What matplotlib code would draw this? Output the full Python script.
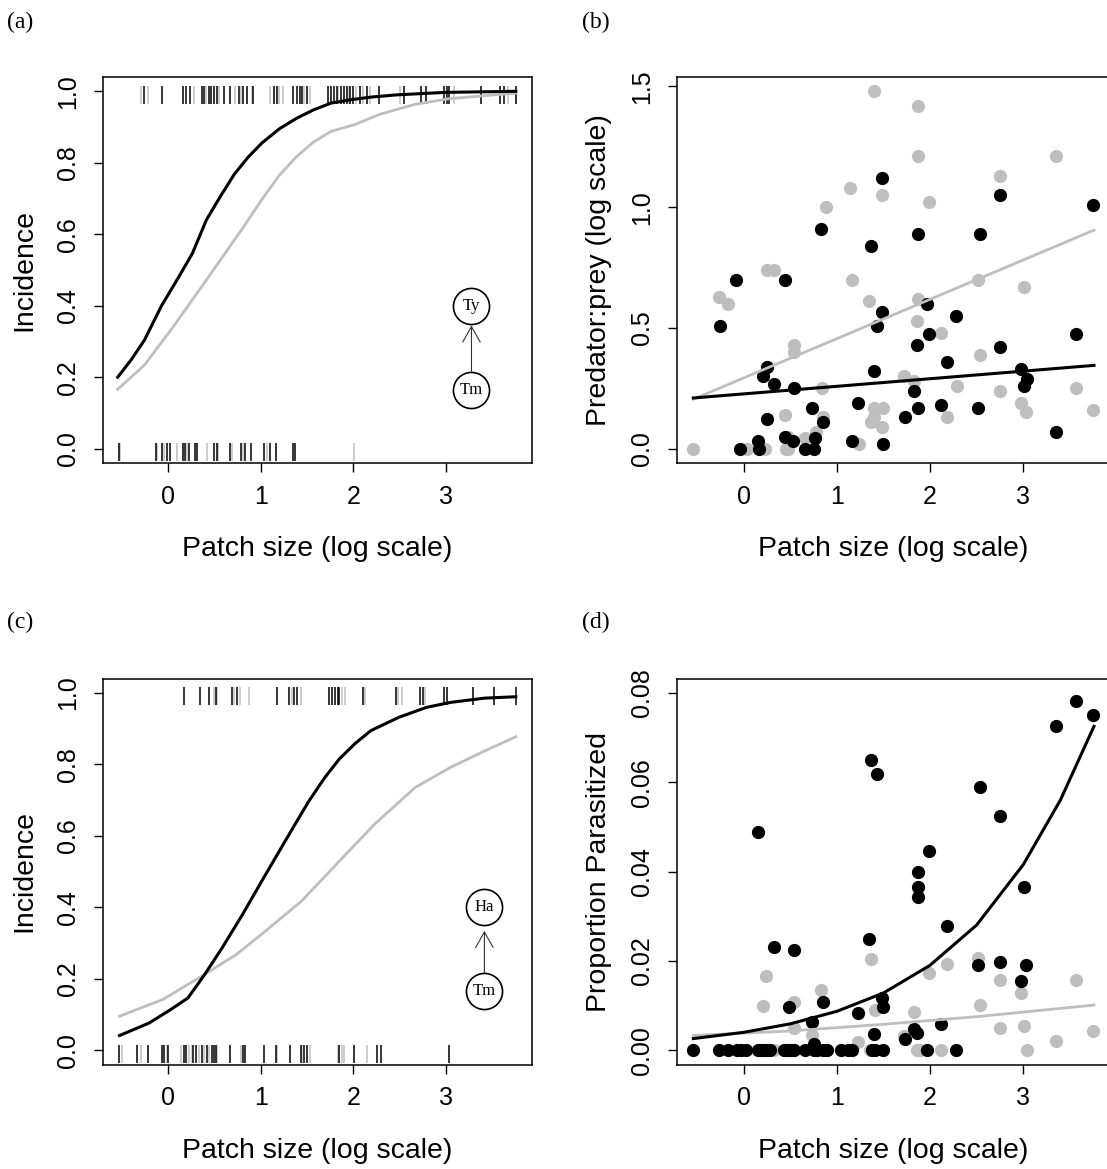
"""
Incidence and abundance of predators/parasitoids against patch size
"""
import matplotlib
matplotlib.use("Agg")
import matplotlib.pyplot as plt

plt.rcParams['font.family'] = ['Liberation Sans', 'DejaVu Sans']

# ---- (a) incidence curves, Ty on Tm ----
a_black_x = [-0.55, -0.4, -0.26, -0.075, 0.11, 0.26, 0.41, 0.56, 0.71, 0.86, 1.01, 1.2, 1.39,
             1.57, 1.76, 1.99, 2.2, 2.47, 3.0, 3.76]
a_black_y = [0.20, 0.25, 0.304, 0.40, 0.48, 0.547, 0.64, 0.705, 0.767, 0.815, 0.855, 0.895, 0.925,
             0.948, 0.967, 0.977, 0.984, 0.99, 0.997, 1.0]
a_gray_x = [-0.55, -0.26, 0.04, 0.41, 0.79, 1.01, 1.2, 1.39, 1.57, 1.76, 2.02, 2.28, 2.66, 3.03, 3.76]
a_gray_y = [0.166, 0.234, 0.337, 0.472, 0.612, 0.697, 0.765, 0.818, 0.858, 0.888, 0.907, 0.935,
            0.963, 0.979, 0.995]

# occupied (y=1) and empty (y=0) patches
a_top_black = [-0.27, -0.065, 0.16, 0.19, 0.235, 0.36, 0.39, 0.44, 0.46, 0.49, 0.52, 0.60, 0.67,
               0.76, 0.81, 0.85, 0.92, 1.14, 1.17, 1.35, 1.39, 1.42, 1.45, 1.50, 1.73, 1.76, 1.79,
               1.82, 1.87, 1.90, 1.93, 1.97, 2.00, 2.07, 2.15, 2.28, 2.55, 2.73, 2.79, 2.98, 3.02,
               3.04, 3.38, 3.59, 3.63, 3.76]
a_top_gray = [-0.30, -0.22, 0.28, 0.41, 0.55, 0.72, 0.78, 0.90, 1.10, 1.20, 1.24, 1.47, 1.53,
              1.84, 1.95, 2.03, 2.11, 2.18, 2.51, 3.09, 3.68]
a_bot_black = [-0.54, -0.14, -0.07, -0.02, 0.02, 0.16, 0.18, 0.22, 0.29, 0.31, 0.49, 0.52, 0.67,
               0.78, 0.83, 0.89, 1.03, 1.10, 1.16, 1.35, 1.37]
a_bot_gray = [-0.52, -0.12, -0.05, 0.09, 0.20, 0.42, 0.54, 0.69, 0.81, 1.07, 2.01]

# ---- (b) predator:prey ratio ----
b_gray_x = [1.40, 1.87, 1.87, 3.35, 2.75, 1.14, 1.49, 1.99, 0.88, 0.25, 0.33, 1.16, 2.51, 3.01,
            -0.26, -0.17, 1.35, 1.87, 1.86, 2.12, 0.54, 0.54, 2.54, 1.72, 1.83, 0.84, 2.29, 2.75,
            3.57, 1.40, 1.50, 2.98, 3.03, 3.75, 0.44, 0.85, 2.18, 1.40, 1.37, 1.49, 0.78, 0.66,
            0.48, 1.24, -0.54, 0.04, 0.23, 0.45, 0.48]
b_gray_y = [1.48, 1.42, 1.21, 1.21, 1.13, 1.08, 1.05, 1.02, 1.00, 0.74, 0.74, 0.70, 0.70, 0.67,
            0.63, 0.60, 0.61, 0.62, 0.53, 0.48, 0.43, 0.40, 0.39, 0.30, 0.28, 0.25, 0.26, 0.24,
            0.25, 0.17, 0.17, 0.19, 0.15, 0.16, 0.14, 0.13, 0.13, 0.13, 0.11, 0.09, 0.07, 0.045,
            0.05, 0.02, 0.0, 0.0, 0.0, 0.0, 0.0]
b_black_x = [1.49, 2.75, 3.75, 0.83, 1.87, 2.54, 1.37, -0.08, 0.44, -0.25, 1.97, 1.49, 2.28, 1.43,
             1.99, 1.86, 2.75, 3.57, 2.18, 0.25, 0.21, 1.40, 2.98, 3.04, 3.01, 0.33, 0.54, 1.83,
             0.73, 1.23, 1.87, 2.12, 2.51, 0.25, 0.85, 1.73, 3.35, 0.77, 0.44, 0.53, 0.15, 1.16,
             1.50, -0.04, 0.17, 0.66, 0.76]
b_black_y = [1.12, 1.05, 1.01, 0.91, 0.89, 0.89, 0.84, 0.70, 0.70, 0.51, 0.60, 0.565, 0.55, 0.51,
             0.475, 0.43, 0.42, 0.475, 0.36, 0.34, 0.30, 0.32, 0.33, 0.29, 0.26, 0.27, 0.25, 0.24,
             0.17, 0.19, 0.17, 0.18, 0.17, 0.125, 0.11, 0.13, 0.07, 0.045, 0.05, 0.03, 0.03, 0.03,
             0.02, 0.0, 0.0, 0.0, 0.0]
b_fit_x = [-0.54, 3.76]
b_fit_black = [0.21, 0.345]
b_fit_gray = [0.205, 0.905]

# ---- (c) incidence curves, Ha on Tm ----
c_black_x = [-0.53, -0.21, 0.02, 0.21, 0.39, 0.58, 0.80, 1.03, 1.22, 1.37, 1.52, 1.69, 1.85, 2.02,
             2.19, 2.49, 2.79, 3.05, 3.42, 3.76]
c_black_y = [0.041, 0.076, 0.113, 0.146, 0.211, 0.286, 0.379, 0.482, 0.566, 0.632, 0.697, 0.762,
             0.815, 0.858, 0.894, 0.931, 0.959, 0.973, 0.985, 0.989]
c_gray_x = [-0.53, -0.06, 0.36, 0.73, 1.03, 1.44, 1.85, 2.23, 2.67, 3.05, 3.42, 3.76]
c_gray_y = [0.095, 0.142, 0.207, 0.267, 0.329, 0.417, 0.529, 0.632, 0.735, 0.791, 0.837, 0.877]

c_top_black = [0.17, 0.34, 0.44, 0.51, 0.69, 0.74, 1.18, 1.31, 1.36, 1.39, 1.74, 1.77, 1.80, 1.83,
               1.85, 2.11, 2.46, 2.72, 2.76, 2.98, 3.02, 3.30, 3.52, 3.76]
c_top_gray = [0.49, 0.52, 0.71, 0.77, 0.87, 1.34, 1.43, 1.88, 1.91, 2.13, 2.49, 2.53, 2.78]
c_bot_black = [-0.54, -0.34, -0.22, -0.07, -0.05, 0.00, 0.17, 0.19, 0.27, 0.30, 0.36, 0.42, 0.47,
               0.49, 0.51, 0.67, 0.81, 0.83, 1.03, 1.16, 1.32, 1.43, 1.47, 1.50, 1.85, 2.01, 2.26,
               2.30, 3.04]
c_bot_gray = [-0.50, -0.30, -0.02, 0.14, 0.22, 0.25, 0.33, 0.39, 0.44, 0.52, 0.78, 1.17, 1.45,
              1.53, 1.83, 1.88, 1.90, 2.15]

# ---- (d) proportion parasitized ----
d_black_x = [3.57, 3.75, 3.35, 1.37, 1.43, 2.54, 2.75, 0.15, 1.99, 1.87, 1.87, 1.87, 3.01, 2.18,
             0.33, 0.54, 1.35, 2.51, 2.75, 3.03, 2.98, 1.49, 1.50, 0.85, 0.49, 1.23, 0.73, 2.12,
             1.83, 1.86, 1.40, 1.73, 0.76,
             -0.54, -0.26, -0.17, -0.07, -0.03, 0.03, 0.15, 0.18, 0.21, 0.24, 0.28, 0.43, 0.47,
             0.51, 0.54, 0.66, 0.76, 0.79, 0.85, 0.89, 1.05, 1.12, 1.16, 1.38, 1.41, 1.50, 1.97,
             2.28]
d_black_y = [0.0781, 0.0751, 0.0725, 0.0649, 0.0619, 0.0590, 0.0524, 0.0488, 0.0446, 0.0398,
             0.0366, 0.0343, 0.0366, 0.0278, 0.0231, 0.0224, 0.0250, 0.0190, 0.0198, 0.0190,
             0.0156, 0.0116, 0.0096, 0.0108, 0.0097, 0.0084, 0.0063, 0.0058, 0.0048, 0.0039,
             0.0037, 0.0024, 0.0015,
             0, 0, 0, 0, 0, 0, 0, 0, 0, 0, 0, 0, 0, 0, 0, 0, 0, 0, 0, 0, 0, 0, 0, 0, 0, 0, 0, 0]
d_gray_x = [1.37, 2.51, 2.18, 1.99, 0.24, 2.75, 3.57, 2.98, 0.83, 1.41, 0.54, 0.21, 2.54, 1.83,
            3.75, 0.54, 2.75, 3.01, 0.73, 1.23, 3.35, 1.72,
            0.33, 1.36, 1.86, 1.89, 2.12, 3.04]
d_gray_y = [0.0205, 0.0207, 0.0192, 0.0172, 0.0166, 0.0158, 0.0158, 0.0128, 0.0134, 0.0090,
            0.0108, 0.0100, 0.0102, 0.0086, 0.0044, 0.0050, 0.0050, 0.0054, 0.0035, 0.0019,
            0.0020, 0.0031,
            0, 0, 0, 0, 0, 0]
d_fit_black_x = [-0.54, 0.0, 0.5, 1.0, 1.5, 2.0, 2.5, 3.0, 3.4, 3.76]
d_fit_black_y = [0.0026, 0.0040, 0.0059, 0.0087, 0.0128, 0.0190, 0.0280, 0.0415, 0.0560, 0.0725]
d_fit_gray_x = [-0.54, 0.5, 1.5, 2.5, 3.76]
d_fit_gray_y = [0.0033, 0.0043, 0.0058, 0.0075, 0.0101]

x_ticks = [0, 1, 2, 3]
GRAY = '#bebebe'
XLIM = (-0.712, 3.932)

W, H = 1107, 1169
fig = plt.figure(figsize=(W / 100, H / 100), dpi=100)


def make_axes(left, top, width, height):
    return fig.add_axes([left / W, 1 - (top + height) / H, width / W, height / H])


def style(ax, yticks, yfmt, ylim, ylabel):
    ax.set_xlim(*XLIM)
    ax.set_ylim(*ylim)
    ax.set_xticks(x_ticks)
    ax.set_xticklabels([str(t) for t in x_ticks])
    ax.set_yticks(yticks)
    ax.set_yticklabels([yfmt.format(t) for t in yticks], rotation=90, va='center')
    ax.tick_params(direction='out', length=6.5, width=1.0, labelsize=18)
    ax.tick_params(axis='x', pad=9)
    ax.tick_params(axis='y', pad=10)
    for s in ax.spines.values():
        s.set_linewidth(1.1)
    ax.set_xlabel('Patch size (log scale)', fontsize=20.5)
    ax.set_ylabel(ylabel, fontsize=20.5)
    ax.xaxis.set_label_coords(0.5, -0.19)
    ax.yaxis.set_label_coords(-0.152, 0.5)


def rug(ax, xs, y, color):
    ax.plot(xs, [y] * len(xs), linestyle='none', marker='|', markersize=13,
            markeredgewidth=1.1, color=color)


def food_chain(ax, x, top_name, y_top, y_bot, tip, base):
    ax.annotate('', xy=(x, tip), xytext=(x, base),
                arrowprops=dict(arrowstyle='->,head_length=0.8,head_width=0.45',
                                color='#333333', lw=0.8, shrinkA=0, shrinkB=0,
                                mutation_scale=14))
    for y, name in [(y_top, top_name), (y_bot, 'Tm')]:
        ax.plot([x], [y], marker='o', markersize=26, markerfacecolor='white',
                markeredgecolor='black', markeredgewidth=1.2)
        ax.text(x, y, name, ha='center', va='center', fontsize=12,
                family=['Liberation Serif', 'DejaVu Serif'])


# (a)
ax = make_axes(102.7, 77, 429, 386)
rug(ax, a_top_gray, 0.99, GRAY)
rug(ax, a_top_black, 0.99, 'black')
rug(ax, a_bot_gray, -0.01, GRAY)
rug(ax, a_bot_black, -0.01, 'black')
ax.plot(a_gray_x, a_gray_y, color=GRAY, lw=2.0)
ax.plot(a_black_x, a_black_y, color='black', lw=2.2)
food_chain(ax, 3.28, 'Ty', 0.40, 0.164, 0.345, 0.213)
style(ax, [0, 0.2, 0.4, 0.6, 0.8, 1.0], '{:.1f}', (-0.04, 1.04), 'Incidence')

# (b)
ax = make_axes(677.3, 77, 432.7, 386)
ax.plot(b_gray_x, b_gray_y, linestyle='none', marker='o', markersize=8.5, color=GRAY)
ax.plot(b_black_x, b_black_y, linestyle='none', marker='o', markersize=8.5, color='black')
ax.plot(b_fit_x, b_fit_gray, color=GRAY, lw=2.0)
ax.plot(b_fit_x, b_fit_black, color='black', lw=2.2)
style(ax, [0, 0.5, 1.0, 1.5], '{:.1f}', (-0.0592, 1.5392), 'Predator:prey (log scale)')

# (c)
ax = make_axes(102.7, 678.5, 429, 386)
rug(ax, c_top_gray, 0.99, GRAY)
rug(ax, c_top_black, 0.99, 'black')
rug(ax, c_bot_gray, -0.01, GRAY)
rug(ax, c_bot_black, -0.01, 'black')
ax.plot(c_gray_x, c_gray_y, color=GRAY, lw=2.0)
ax.plot(c_black_x, c_black_y, color='black', lw=2.2)
food_chain(ax, 3.42, 'Ha', 0.40, 0.165, 0.334, 0.217)
style(ax, [0, 0.2, 0.4, 0.6, 0.8, 1.0], '{:.1f}', (-0.04, 1.04), 'Incidence')

# (d)
ax = make_axes(677.3, 678.5, 432.7, 386)
ax.plot(d_gray_x, d_gray_y, linestyle='none', marker='o', markersize=8.5, color=GRAY)
ax.plot(d_black_x, d_black_y, linestyle='none', marker='o', markersize=8.5, color='black')
ax.plot(d_fit_gray_x, d_fit_gray_y, color=GRAY, lw=2.0)
ax.plot(d_fit_black_x, d_fit_black_y, color='black', lw=2.2)
style(ax, [0, 0.02, 0.04, 0.06, 0.08], '{:.2f}', (-0.0032, 0.0832), 'Proportion Parasitized')

# panel letters
for label, px, py in [('(a)', 7, 22), ('(b)', 582, 22), ('(c)', 7, 622), ('(d)', 582, 622)]:
    fig.text(px / W, 1 - py / H, label, ha='left', va='center', fontsize=17,
             family=['Liberation Serif', 'DejaVu Serif'])

fig.savefig('out.png', dpi=100)
